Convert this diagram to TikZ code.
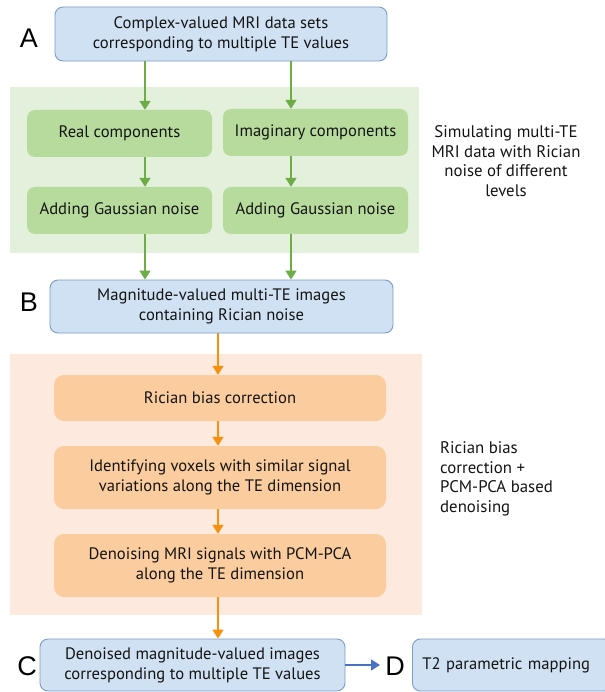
\documentclass[tikz,border=0pt]{standalone}
\usepackage{fontspec}
\setmainfont{PT Sans}
\newfontfamily\labfont{Liberation Sans}
\usetikzlibrary{arrows.meta}
\definecolor{bluefill}{HTML}{CFE1F2}
\definecolor{blueedge}{HTML}{7A9CC6}
\definecolor{greenfill}{HTML}{B6DB9C}
\definecolor{greenbg}{HTML}{E3F0DB}
\definecolor{greenarrow}{HTML}{6DAD45}
\definecolor{orangefill}{HTML}{FBCD9E}
\definecolor{orangebg}{HTML}{FDE9DD}
\definecolor{orangearrow}{HTML}{F7900F}
\definecolor{bluearrow}{HTML}{4A72C4}
\definecolor{txt}{HTML}{141414}
\tikzset{
  bluebox/.style={draw=blueedge, line width=0.9pt, fill=bluefill, rounded corners=8pt, align=center, inner sep=0pt, text=txt},
  greenbox/.style={fill=greenfill, rounded corners=8pt, align=center, inner sep=0pt, text=txt},
  orangebox/.style={fill=orangefill, rounded corners=10pt, align=center, inner sep=0pt, text=txt},
  bigletter/.style={font=\labfont\fontsize{27}{27}\selectfont, inner sep=0pt, text=black},
  sidetext/.style={font=\fontsize{16.8}{19.5}\selectfont, inner sep=0pt, text=txt},
  garrow/.style={draw=greenarrow, line width=1.6pt, -{Triangle[length=9pt,width=11pt]}},
  oarrow/.style={draw=orangearrow, line width=1.6pt, -{Triangle[length=9pt,width=11pt]}},
  barrow/.style={draw=bluearrow, line width=1.6pt, -{Triangle[length=9pt,width=11pt]}},
}
\begin{document}
\begin{tikzpicture}[x=1pt,y=-1pt, font=\fontsize{16.6}{20}\selectfont]
\useasboundingbox (0,0) rectangle (604,692);
% backgrounds
\fill[greenbg] (10,87) rectangle (419,253);
\fill[orangebg] (10,354) rectangle (422,615);
% A
\node[bigletter] (lA) at (29,38) {A};
\node[bluebox, minimum width=332pt, minimum height=54pt] (A) at (221,34) {Complex-valued MRI data sets\\corresponding to multiple TE values};
\node[greenbox, minimum width=185pt, minimum height=47pt] (re) at (119.5,133.5) {Real components};
\node[greenbox, minimum width=185pt, minimum height=47pt] (im) at (315.5,132.5) {Imaginary components};
\node[greenbox, minimum width=185pt, minimum height=47pt] (gl) at (119.5,210.5) {Adding Gaussian noise};
\node[greenbox, minimum width=185pt, minimum height=47pt] (gr) at (315.5,210.5) {Adding Gaussian noise};
\node[sidetext, align=center] (s1) at (506,161) {Simulating multi-TE\\MRI data with Rician\\noise of different\\levels};
% B
\node[bigletter] (lB) at (29,302) {B};
\node[bluebox, minimum width=343pt, minimum height=53pt] (B) at (221.5,306.5) {Magnitude-valued multi-TE images\\containing Rician noise};
\node[orangebox, minimum width=332pt, minimum height=46pt] (o1) at (220,398) {Rician bias correction};
\node[orangebox, minimum width=332pt, minimum height=63pt] (o2) at (220,477.5) {Identifying voxels with similar signal\\variations along the TE dimension};
\node[orangebox, minimum width=332pt, minimum height=63pt] (o3) at (220,565.5) {Denoising MRI signals with PCM-PCA\\along the TE dimension};
\node[sidetext, align=left, anchor=west] (s2) at (440,479) {Rician bias\\correction +\\PCM-PCA based\\denoising};
% C, D
\node[bigletter] (lC) at (27,666) {C};
\node[bluebox, minimum width=305pt, minimum height=52pt] (C) at (192.5,665) {Denoised magnitude-valued images\\corresponding to multiple TE values};
\node[bigletter] (lD) at (395,666) {D};
\node[bluebox, minimum width=200pt, minimum height=52pt, anchor=west, text width=190pt, align=left] (D) at (412,665) {\hspace{5pt}T2 parametric mapping};
% arrows
\coordinate (a1s) at (145,61);
\coordinate (a2s) at (291,61);
\draw[garrow] (a1s) -- (re.north -| a1s);
\draw[garrow] (a2s) -- (im.north -| a2s);
\draw[garrow] (re.south -| a1s) -- (gl.north -| a1s);
\draw[garrow] (im.south -| a2s) -- (gr.north -| a2s);
\draw[garrow] (gl.south -| a1s) -- (B.north -| a1s);
\draw[garrow] (gr.south -| a2s) -- (B.north -| a2s);
\coordinate (ox) at (218,0);
\draw[oarrow] (B.south -| ox) -- (o1.north -| ox);
\draw[oarrow] (o1.south -| ox) -- (o2.north -| ox);
\draw[oarrow] (o2.south -| ox) -- (o3.north -| ox);
\draw[oarrow] (o3.south -| ox) -- (C.north -| ox);
\draw[barrow] (C.east) -- (380,665) coordinate (bend);
\end{tikzpicture}
\end{document}
